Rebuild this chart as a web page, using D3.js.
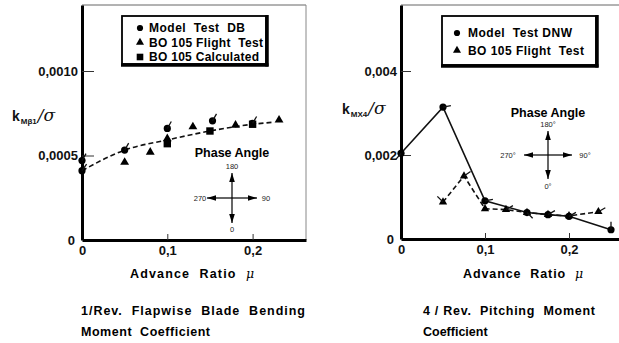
<!DOCTYPE html>
<html><head><meta charset="utf-8">
<script src="https://cdn.jsdelivr.net/npm/d3@7"></script>
<style>
html,body{margin:0;padding:0;background:#fff;}
svg{display:block;font-family:"Liberation Sans",Arial,sans-serif;font-weight:bold;}
</style></head>
<body><svg id="c" width="619" height="343"></svg>
<script>
// ---- Left panel data: 1/Rev flapwise blade bending moment coefficient ----
const leftMuDB = [0, 0, 0.05, 0.1, 0.153, 0.2];
const leftValDB = [0.00047, 0.00041, 0.000532, 0.00066, 0.000705, 0.00069];
const leftPhaseDB = [150, 145, 150, 150, 150, 150];
const leftMuFlight = [0.05, 0.08, 0.1, 0.13, 0.18, 0.231];
const leftValFlight = [0.00046, 0.00052, 0.0006, 0.00067, 0.00068, 0.00071];
const leftMuCalc = [0.1, 0.15, 0.2];
const leftValCalc = [0.00057, 0.000645, 0.000685];
const leftCurveMu = [0, 0.05, 0.1, 0.15, 0.2, 0.225];
const leftCurveVal = [0.00041, 0.000532, 0.000592, 0.000645, 0.000685, 0.000697];
const leftYTicks = [0, 0.0005, 0.001];
const leftYLabels = ["0", "0,0005", "0,0010"];
const leftLegend = ["Model  Test  DB", "BO 105 Flight  Test", "BO 105 Calculated"];

// ---- Right panel data: 4/Rev pitching moment coefficient ----
const rightMuDNW = [0, 0.05, 0.1, 0.15, 0.175, 0.2, 0.25];
const rightValDNW = [0.00204, 0.00314, 0.00091, 0.00063, 0.00058, 0.00054, 0.00022];
const rightPhaseDNW = [320, 100, 100, 45, 120, 120, 180];
const rightMuFlight = [0.05, 0.075, 0.1, 0.125, 0.15, 0.175, 0.2, 0.235];
const rightValFlight = [0.00088, 0.0015, 0.00072, 0.0007, 0.00063, 0.00058, 0.00055, 0.00065];
const rightPhaseFlight = [225, 125, null, 120, null, null, null, 120];
const rightYTicks = [0, 0.002, 0.004];
const rightYLabels = ["0", "0,002", "0,004"];
const rightLegend = ["Model  Test DNW", "BO 105 Flight  Test"];

const xTicks = [0, 0.1, 0.2];
const xLabels = ["0", "0,1", "0,2"];

const svg = d3.select("#c");

function phaseTick(g, x, y, phase, len) {
  if (phase == null) return;
  const r = phase * Math.PI / 180;
  g.append("line").attr("x1", x).attr("y1", y)
    .attr("x2", x + Math.sin(r) * len).attr("y2", y + Math.cos(r) * len)
    .attr("stroke", "#111").attr("stroke-width", 1.3);
}
function triPath(s) { return d3.symbol(d3.symbolTriangle, s)(); }

function drawPanel(p) {
  const x = d3.scaleLinear().domain(p.xDomain).range([p.x0, p.x1]);
  const y = d3.scaleLinear().domain(p.yDomain).range([p.y0, p.y1]);
  const g = svg.append("g");

  // frame (top and right)
  g.append("line").attr("x1", p.x0).attr("x2", p.x1).attr("y1", p.y1).attr("y2", p.y1)
    .attr("stroke", "#666").attr("stroke-width", 1);
  if (p.rightBorder) g.append("line").attr("x1", p.x1).attr("x2", p.x1).attr("y1", p.y1).attr("y2", p.y0)
    .attr("stroke", "#888").attr("stroke-width", 1);

  // axes
  const ax = g.append("g").attr("transform", `translate(0,${p.y0})`)
    .call(d3.axisBottom(x).tickValues(xTicks).tickFormat((d, i) => xLabels[i]).tickSizeInner(-6).tickSizeOuter(0).tickPadding(6));
  const ay = g.append("g").attr("transform", `translate(${p.x0},0)`)
    .call(d3.axisLeft(y).tickValues(p.yTicks).tickFormat((d, i) => p.yLabels[i]).tickSizeInner(-p.yTickLen).tickSizeOuter(0).tickPadding(4));
  [ax, ay].forEach(a => {
    a.select(".domain").attr("stroke", "#000").attr("stroke-width", 3);
    a.selectAll(".tick line").attr("stroke", "#333").attr("stroke-width", 1);
    a.selectAll(".tick text").attr("fill", "#111").style("font-size", "13px")
      .style("font-family", "'Liberation Sans',Arial,sans-serif").style("font-weight", "bold");
  });
  ax.selectAll(".tick").filter(d => d === 0).select("line").remove();
  ay.selectAll(".tick").filter(d => d === 0).select("line").remove();
  ay.selectAll(".tick text").filter(d => d === 0).attr("x", -7);

  p.draw(g, x, y);

  // legend
  const L = p.legend;
  const lg = g.append("g");
  lg.append("rect").attr("x", L.x).attr("y", L.y).attr("width", L.w).attr("height", L.h)
    .attr("fill", "#fff").attr("stroke", "#000").attr("stroke-width", 1.8);
  lg.append("line").attr("x1", L.x + L.w + 1).attr("x2", L.x + L.w + 1).attr("y1", L.y - 1).attr("y2", L.y + L.h + 2.5)
    .attr("stroke", "#000").attr("stroke-width", 3.5);
  lg.append("line").attr("x1", L.x - 1).attr("x2", L.x + L.w + 2.5).attr("y1", L.y + L.h + 1).attr("y2", L.y + L.h + 1)
    .attr("stroke", "#000").attr("stroke-width", 3.5);
  L.items.forEach((t, i) => {
    const cy = L.y + L.first + i * L.step;
    const mx = L.x + L.mx;
    if (L.shapes[i] === "c") lg.append("circle").attr("cx", mx).attr("cy", cy).attr("r", 3.1).attr("fill", "#000");
    else if (L.shapes[i] === "t") lg.append("path").attr("d", triPath(28)).attr("transform", `translate(${mx},${cy})`).attr("fill", "#000");
    else lg.append("rect").attr("x", mx - 3.3).attr("y", cy - 3.3).attr("width", 6.6).attr("height", 6.6).attr("fill", "#000");
    lg.append("text").attr("x", L.x + L.tx).attr("y", cy + 4.3).attr("font-size", 12)
      .attr("textLength", L.tw[i]).attr("lengthAdjust", "spacing").style("white-space", "pre").text(t);
  });

  // y label
  const yl = g.append("text").attr("x", p.ylab.x).attr("y", p.ylab.y).attr("fill", "#111");
  yl.append("tspan").attr("font-size", 14).text("k");
  yl.append("tspan").attr("font-size", 8).attr("dy", 3).attr("dx", 1).text(p.ylab.sub);
  yl.append("tspan").attr("font-size", 17).attr("dy", -3).attr("dx", 1).style("font-family", "'DejaVu Serif',serif")
    .style("font-weight", "normal").style("font-style", "italic").text("/σ");

  // x title
  const xt = g.append("text").attr("x", p.xtitle.x).attr("y", p.xtitle.y).attr("font-size", 12.5)
    .attr("textLength", p.xtitle.w).attr("lengthAdjust", "spacing").style("white-space", "pre");
  xt.append("tspan").text("Advance  Ratio  ");
  xt.append("tspan").style("font-family", "'DejaVu Serif',serif").style("font-style", "italic").style("font-weight", "normal").text("μ");

  // caption
  p.caption.lines.forEach((c, i) => {
    const t = g.append("text").attr("x", p.caption.x).attr("y", p.caption.y + i * 20.5).attr("font-size", 12.5)
      .style("white-space", "pre").text(c.t);
    if (c.w) t.attr("textLength", c.w).attr("lengthAdjust", "spacing");
  });

  // phase-angle compass
  const C = p.compass;
  const cg = g.append("g");
  cg.append("text").attr("x", C.x).attr("y", C.ty).attr("text-anchor", "middle").attr("font-size", 12.5).text("Phase Angle");
  const arr = (dx, dy) => {
    cg.append("line").attr("x1", C.x).attr("y1", C.y).attr("x2", C.x + dx).attr("y2", C.y + dy)
      .attr("stroke", "#000").attr("stroke-width", 1.2);
    const ang = Math.atan2(dy, dx) * 180 / Math.PI + 90;
    cg.append("path").attr("d", "M0,0 L-2.8,9 L2.8,9 Z")
      .attr("transform", `translate(${C.x + dx},${C.y + dy}) rotate(${ang})`).attr("fill", "#000");
  };
  arr(0, -C.v); arr(0, C.v); arr(-C.h, 0); arr(C.h, 0);
  cg.selectAll(".lab").data(C.labels).join("text")
    .attr("x", d => C.x + d.dx).attr("y", d => C.y + d.dy).attr("text-anchor", d => d.a)
    .attr("font-size", 7.5).style("font-weight", "normal").attr("fill", "#222").text(d => d.t);
}

// ---------- LEFT ----------
drawPanel({
  x0: 82, x1: 306, y0: 240, y1: 5,
  xDomain: [0, (306 - 82) / 853], yDomain: [0, 0.235 / 169],
  yTicks: leftYTicks, yLabels: leftYLabels, yTickLen: 12, rightBorder: true,
  draw(g, x, y) {
    const pts = leftCurveMu.map((m, i) => [x(m), y(leftCurveVal[i])]);
    g.append("path").attr("d", d3.line().curve(d3.curveMonotoneX)(pts)).attr("fill", "none")
      .attr("stroke", "#111").attr("stroke-width", 1.6).attr("stroke-dasharray", "5,3");
    leftMuFlight.forEach((m, i) => g.append("path").attr("d", triPath(34))
      .attr("transform", `translate(${x(m)},${y(leftValFlight[i])})`).attr("fill", "#000"));
    leftMuCalc.forEach((m, i) => g.append("rect").attr("x", x(m) - 3.7).attr("y", y(leftValCalc[i]) - 3.7)
      .attr("width", 7.4).attr("height", 7.4).attr("fill", "#000"));
    leftMuDB.forEach((m, i) => {
      g.append("circle").attr("cx", x(m)).attr("cy", y(leftValDB[i])).attr("r", 3.6).attr("fill", "#000");
      phaseTick(g, x(m), y(leftValDB[i]), leftPhaseDB[i], 8);
    });
  },
  legend: { x: 122, y: 16, w: 144, h: 48, first: 12, step: 14.5, mx: 18, tx: 27,
    items: leftLegend, shapes: ["c", "t", "s"], tw: [96, 114, 110] },
  ylab: { x: 12, y: 121, sub: "Mβ1" },
  xtitle: { x: 130, y: 278, w: 124 },
  caption: { x: 81, y: 315, lines: [{ t: "1/Rev.  Flapwise  Blade  Bending", w: 224 }, { t: "Moment  Coefficient", w: 129 }] },
  compass: { x: 232, y: 198, ty: 157, v: 25, h: 25,
    labels: [{ t: "180", dx: 0, dy: -29, a: "middle" }, { t: "0", dx: 0, dy: 34, a: "middle" },
             { t: "270", dx: -32, dy: 3, a: "middle" }, { t: "90", dx: 34, dy: 3, a: "middle" }] }
});

// ---------- RIGHT ----------
drawPanel({
  x0: 401, x1: 619, y0: 239, y1: 5,
  xDomain: [0, (619 - 401) / 840], yDomain: [0, 0.234 / 42],
  yTicks: rightYTicks, yLabels: rightYLabels, yTickLen: 10, rightBorder: false,
  draw(g, x, y) {
    const ptsF = rightMuFlight.map((m, i) => [x(m), y(rightValFlight[i])]);
    g.append("path").attr("d", d3.line()(ptsF)).attr("fill", "none")
      .attr("stroke", "#111").attr("stroke-width", 1.6).attr("stroke-dasharray", "5,3");
    const ptsD = rightMuDNW.map((m, i) => [x(m), y(rightValDNW[i])]);
    g.append("path").attr("d", d3.line()(ptsD)).attr("fill", "none")
      .attr("stroke", "#111").attr("stroke-width", 1.6);
    rightMuFlight.forEach((m, i) => {
      g.append("path").attr("d", triPath(30)).attr("transform", `translate(${x(m)},${y(rightValFlight[i])})`).attr("fill", "#000");
      phaseTick(g, x(m), y(rightValFlight[i]), rightPhaseFlight[i], 8);
    });
    rightMuDNW.forEach((m, i) => {
      g.append("circle").attr("cx", x(m)).attr("cy", y(rightValDNW[i])).attr("r", 3.6).attr("fill", "#000");
      phaseTick(g, x(m), y(rightValDNW[i]), rightPhaseDNW[i], 8);
    });
  },
  legend: { x: 442, y: 16, w: 154, h: 49, first: 17, step: 17.5, mx: 15, tx: 26,
    items: rightLegend, shapes: ["c", "t"], tw: [104, 116] },
  ylab: { x: 342, y: 114, sub: "MX4" },
  xtitle: { x: 463, y: 278, w: 120 },
  caption: { x: 423, y: 315, lines: [{ t: "4 / Rev.  Pitching  Moment", w: 172 }, { t: "Coefficient", w: 0 }] },
  compass: { x: 548, y: 155, ty: 117, v: 24, h: 24,
    labels: [{ t: "180°", dx: 0, dy: -28, a: "middle" }, { t: "0°", dx: 0, dy: 34, a: "middle" },
             { t: "270°", dx: -40, dy: 3, a: "middle" }, { t: "90°", dx: 37, dy: 3, a: "middle" }] }
});
</script></body></html>
